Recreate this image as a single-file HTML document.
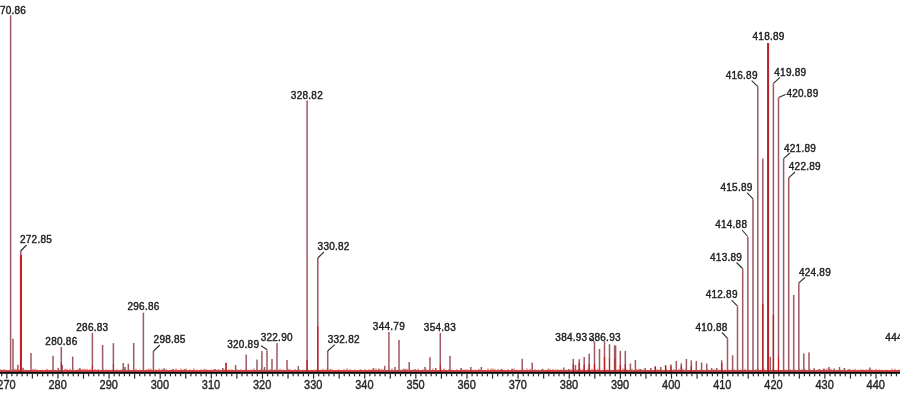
<!DOCTYPE html><html><head><meta charset="utf-8"><style>html,body{margin:0;padding:0;background:#fff;width:900px;height:402px;overflow:hidden}svg{display:block;will-change:transform}.l{font-family:"Liberation Sans",Arial,sans-serif;font-size:10px;letter-spacing:0.25px;fill:#222;stroke:#222;stroke-width:0.4px}.a{font-family:"Liberation Sans",Arial,sans-serif;font-size:12px;fill:#262626;stroke:#262626;stroke-width:0.4px}</style></head><body>
<svg width="900" height="402" viewBox="0 0 900 402">
<rect width="900" height="402" fill="#fff"/>
<rect x="0" y="370" width="900" height="1.9" fill="#e24040"/><rect x="0.5" y="369.3" width="1" height="1.2" fill="#e03c3a"/><rect x="3.5" y="369.1" width="1" height="1.4" fill="#e03c3a"/><rect x="5.5" y="369.7" width="1" height="0.8" fill="#e03c3a"/><rect x="10.5" y="369.7" width="1" height="0.8" fill="#e03c3a"/><rect x="13.5" y="368.8" width="1" height="1.7" fill="#e03c3a"/><rect x="15.5" y="368.8" width="1" height="1.7" fill="#e03c3a"/><rect x="18.5" y="369.7" width="1" height="0.8" fill="#e03c3a"/><rect x="20.5" y="369.1" width="1" height="1.4" fill="#e03c3a"/><rect x="24.5" y="369.7" width="1" height="0.8" fill="#e03c3a"/><rect x="27.5" y="369.7" width="1" height="0.8" fill="#e03c3a"/><rect x="32.5" y="369.1" width="1" height="1.4" fill="#e03c3a"/><rect x="34.5" y="368.8" width="1" height="1.7" fill="#e03c3a"/><rect x="36.5" y="369.5" width="1" height="1.0" fill="#e03c3a"/><rect x="41.5" y="369.7" width="1" height="0.8" fill="#e03c3a"/><rect x="46.5" y="368.8" width="1" height="1.7" fill="#e03c3a"/><rect x="50.5" y="369.7" width="1" height="0.8" fill="#e03c3a"/><rect x="53.5" y="369.7" width="1" height="0.8" fill="#e03c3a"/><rect x="58.5" y="369.5" width="1" height="1.0" fill="#e03c3a"/><rect x="61.5" y="369.1" width="1" height="1.4" fill="#e03c3a"/><rect x="64.5" y="368.8" width="1" height="1.7" fill="#e03c3a"/><rect x="66.5" y="368.8" width="1" height="1.7" fill="#e03c3a"/><rect x="69.5" y="368.8" width="1" height="1.7" fill="#e03c3a"/><rect x="72.5" y="369.7" width="1" height="0.8" fill="#e03c3a"/><rect x="77.5" y="368.8" width="1" height="1.7" fill="#e03c3a"/><rect x="80.5" y="369.3" width="1" height="1.2" fill="#e03c3a"/><rect x="82.5" y="368.8" width="1" height="1.7" fill="#e03c3a"/><rect x="84.5" y="368.8" width="1" height="1.7" fill="#e03c3a"/><rect x="86.5" y="368.8" width="1" height="1.7" fill="#e03c3a"/><rect x="89.5" y="369.1" width="1" height="1.4" fill="#e03c3a"/><rect x="94.5" y="369.1" width="1" height="1.4" fill="#e03c3a"/><rect x="97.5" y="369.1" width="1" height="1.4" fill="#e03c3a"/><rect x="102.5" y="369.1" width="1" height="1.4" fill="#e03c3a"/><rect x="105.5" y="369.3" width="1" height="1.2" fill="#e03c3a"/><rect x="108.5" y="369.5" width="1" height="1.0" fill="#e03c3a"/><rect x="111.5" y="369.7" width="1" height="0.8" fill="#e03c3a"/><rect x="116.5" y="369.3" width="1" height="1.2" fill="#e03c3a"/><rect x="121.5" y="369.1" width="1" height="1.4" fill="#e03c3a"/><rect x="124.5" y="368.5" width="1" height="2.0" fill="#e03c3a"/><rect x="128.5" y="369.3" width="1" height="1.2" fill="#e03c3a"/><rect x="133.5" y="369.7" width="1" height="0.8" fill="#e03c3a"/><rect x="135.5" y="368.8" width="1" height="1.7" fill="#e03c3a"/><rect x="139.5" y="369.5" width="1" height="1.0" fill="#e03c3a"/><rect x="142.5" y="369.5" width="1" height="1.0" fill="#e03c3a"/><rect x="146.5" y="369.1" width="1" height="1.4" fill="#e03c3a"/><rect x="148.5" y="368.5" width="1" height="2.0" fill="#e03c3a"/><rect x="150.5" y="368.8" width="1" height="1.7" fill="#e03c3a"/><rect x="155.5" y="369.3" width="1" height="1.2" fill="#e03c3a"/><rect x="158.5" y="368.5" width="1" height="2.0" fill="#e03c3a"/><rect x="161.5" y="368.8" width="1" height="1.7" fill="#e03c3a"/><rect x="165.5" y="368.8" width="1" height="1.7" fill="#e03c3a"/><rect x="169.5" y="369.7" width="1" height="0.8" fill="#e03c3a"/><rect x="171.5" y="369.3" width="1" height="1.2" fill="#e03c3a"/><rect x="175.5" y="368.5" width="1" height="2.0" fill="#e03c3a"/><rect x="177.5" y="369.7" width="1" height="0.8" fill="#e03c3a"/><rect x="180.5" y="368.5" width="1" height="2.0" fill="#e03c3a"/><rect x="185.5" y="368.5" width="1" height="2.0" fill="#e03c3a"/><rect x="189.5" y="369.3" width="1" height="1.2" fill="#e03c3a"/><rect x="193.5" y="368.5" width="1" height="2.0" fill="#e03c3a"/><rect x="196.5" y="369.7" width="1" height="0.8" fill="#e03c3a"/><rect x="200.5" y="369.3" width="1" height="1.2" fill="#e03c3a"/><rect x="203.5" y="368.8" width="1" height="1.7" fill="#e03c3a"/><rect x="205.5" y="369.1" width="1" height="1.4" fill="#e03c3a"/><rect x="207.5" y="369.5" width="1" height="1.0" fill="#e03c3a"/><rect x="210.5" y="369.5" width="1" height="1.0" fill="#e03c3a"/><rect x="213.5" y="369.1" width="1" height="1.4" fill="#e03c3a"/><rect x="217.5" y="369.1" width="1" height="1.4" fill="#e03c3a"/><rect x="219.5" y="369.5" width="1" height="1.0" fill="#e03c3a"/><rect x="223.5" y="369.1" width="1" height="1.4" fill="#e03c3a"/><rect x="228.5" y="369.3" width="1" height="1.2" fill="#e03c3a"/><rect x="231.5" y="369.1" width="1" height="1.4" fill="#e03c3a"/><rect x="236.5" y="369.3" width="1" height="1.2" fill="#e03c3a"/><rect x="240.5" y="369.3" width="1" height="1.2" fill="#e03c3a"/><rect x="244.5" y="369.5" width="1" height="1.0" fill="#e03c3a"/><rect x="247.5" y="369.7" width="1" height="0.8" fill="#e03c3a"/><rect x="250.5" y="369.5" width="1" height="1.0" fill="#e03c3a"/><rect x="253.5" y="368.5" width="1" height="2.0" fill="#e03c3a"/><rect x="256.5" y="369.7" width="1" height="0.8" fill="#e03c3a"/><rect x="260.5" y="368.8" width="1" height="1.7" fill="#e03c3a"/><rect x="263.5" y="369.3" width="1" height="1.2" fill="#e03c3a"/><rect x="266.5" y="369.7" width="1" height="0.8" fill="#e03c3a"/><rect x="269.5" y="369.1" width="1" height="1.4" fill="#e03c3a"/><rect x="274.5" y="369.3" width="1" height="1.2" fill="#e03c3a"/><rect x="279.5" y="368.8" width="1" height="1.7" fill="#e03c3a"/><rect x="282.5" y="369.5" width="1" height="1.0" fill="#e03c3a"/><rect x="287.5" y="368.8" width="1" height="1.7" fill="#e03c3a"/><rect x="289.5" y="369.1" width="1" height="1.4" fill="#e03c3a"/><rect x="294.5" y="369.1" width="1" height="1.4" fill="#e03c3a"/><rect x="298.5" y="369.1" width="1" height="1.4" fill="#e03c3a"/><rect x="302.5" y="369.7" width="1" height="0.8" fill="#e03c3a"/><rect x="306.5" y="368.5" width="1" height="2.0" fill="#e03c3a"/><rect x="310.5" y="369.7" width="1" height="0.8" fill="#e03c3a"/><rect x="313.5" y="369.7" width="1" height="0.8" fill="#e03c3a"/><rect x="316.5" y="369.1" width="1" height="1.4" fill="#e03c3a"/><rect x="319.5" y="369.7" width="1" height="0.8" fill="#e03c3a"/><rect x="322.5" y="368.8" width="1" height="1.7" fill="#e03c3a"/><rect x="324.5" y="369.7" width="1" height="0.8" fill="#e03c3a"/><rect x="326.5" y="368.8" width="1" height="1.7" fill="#e03c3a"/><rect x="329.5" y="368.8" width="1" height="1.7" fill="#e03c3a"/><rect x="331.5" y="369.3" width="1" height="1.2" fill="#e03c3a"/><rect x="336.5" y="369.7" width="1" height="0.8" fill="#e03c3a"/><rect x="338.5" y="369.5" width="1" height="1.0" fill="#e03c3a"/><rect x="343.5" y="369.1" width="1" height="1.4" fill="#e03c3a"/><rect x="346.5" y="368.5" width="1" height="2.0" fill="#e03c3a"/><rect x="349.5" y="369.3" width="1" height="1.2" fill="#e03c3a"/><rect x="354.5" y="369.3" width="1" height="1.2" fill="#e03c3a"/><rect x="358.5" y="369.7" width="1" height="0.8" fill="#e03c3a"/><rect x="360.5" y="369.1" width="1" height="1.4" fill="#e03c3a"/><rect x="364.5" y="369.1" width="1" height="1.4" fill="#e03c3a"/><rect x="368.5" y="369.3" width="1" height="1.2" fill="#e03c3a"/><rect x="370.5" y="369.5" width="1" height="1.0" fill="#e03c3a"/><rect x="372.5" y="368.5" width="1" height="2.0" fill="#e03c3a"/><rect x="375.5" y="368.5" width="1" height="2.0" fill="#e03c3a"/><rect x="378.5" y="369.1" width="1" height="1.4" fill="#e03c3a"/><rect x="381.5" y="368.8" width="1" height="1.7" fill="#e03c3a"/><rect x="383.5" y="369.5" width="1" height="1.0" fill="#e03c3a"/><rect x="388.5" y="369.3" width="1" height="1.2" fill="#e03c3a"/><rect x="391.5" y="368.5" width="1" height="2.0" fill="#e03c3a"/><rect x="396.5" y="369.7" width="1" height="0.8" fill="#e03c3a"/><rect x="401.5" y="369.3" width="1" height="1.2" fill="#e03c3a"/><rect x="403.5" y="368.5" width="1" height="2.0" fill="#e03c3a"/><rect x="406.5" y="368.8" width="1" height="1.7" fill="#e03c3a"/><rect x="409.5" y="369.5" width="1" height="1.0" fill="#e03c3a"/><rect x="412.5" y="369.5" width="1" height="1.0" fill="#e03c3a"/><rect x="417.5" y="368.8" width="1" height="1.7" fill="#e03c3a"/><rect x="422.5" y="369.3" width="1" height="1.2" fill="#e03c3a"/><rect x="425.5" y="368.8" width="1" height="1.7" fill="#e03c3a"/><rect x="428.5" y="369.5" width="1" height="1.0" fill="#e03c3a"/><rect x="432.5" y="368.5" width="1" height="2.0" fill="#e03c3a"/><rect x="435.5" y="369.5" width="1" height="1.0" fill="#e03c3a"/><rect x="440.5" y="369.1" width="1" height="1.4" fill="#e03c3a"/><rect x="443.5" y="368.5" width="1" height="2.0" fill="#e03c3a"/><rect x="445.5" y="369.7" width="1" height="0.8" fill="#e03c3a"/><rect x="448.5" y="369.1" width="1" height="1.4" fill="#e03c3a"/><rect x="451.5" y="369.5" width="1" height="1.0" fill="#e03c3a"/><rect x="456.5" y="369.3" width="1" height="1.2" fill="#e03c3a"/><rect x="460.5" y="368.5" width="1" height="2.0" fill="#e03c3a"/><rect x="463.5" y="369.3" width="1" height="1.2" fill="#e03c3a"/><rect x="465.5" y="369.5" width="1" height="1.0" fill="#e03c3a"/><rect x="467.5" y="369.5" width="1" height="1.0" fill="#e03c3a"/><rect x="471.5" y="369.5" width="1" height="1.0" fill="#e03c3a"/><rect x="474.5" y="369.5" width="1" height="1.0" fill="#e03c3a"/><rect x="478.5" y="368.8" width="1" height="1.7" fill="#e03c3a"/><rect x="483.5" y="369.7" width="1" height="0.8" fill="#e03c3a"/><rect x="487.5" y="368.5" width="1" height="2.0" fill="#e03c3a"/><rect x="490.5" y="368.5" width="1" height="2.0" fill="#e03c3a"/><rect x="492.5" y="368.5" width="1" height="2.0" fill="#e03c3a"/><rect x="494.5" y="369.1" width="1" height="1.4" fill="#e03c3a"/><rect x="497.5" y="369.1" width="1" height="1.4" fill="#e03c3a"/><rect x="500.5" y="369.1" width="1" height="1.4" fill="#e03c3a"/><rect x="503.5" y="369.7" width="1" height="0.8" fill="#e03c3a"/><rect x="507.5" y="369.1" width="1" height="1.4" fill="#e03c3a"/><rect x="511.5" y="368.5" width="1" height="2.0" fill="#e03c3a"/><rect x="513.5" y="368.5" width="1" height="2.0" fill="#e03c3a"/><rect x="516.5" y="369.5" width="1" height="1.0" fill="#e03c3a"/><rect x="519.5" y="369.7" width="1" height="0.8" fill="#e03c3a"/><rect x="522.5" y="368.8" width="1" height="1.7" fill="#e03c3a"/><rect x="526.5" y="368.5" width="1" height="2.0" fill="#e03c3a"/><rect x="529.5" y="368.8" width="1" height="1.7" fill="#e03c3a"/><rect x="534.5" y="369.1" width="1" height="1.4" fill="#e03c3a"/><rect x="537.5" y="369.5" width="1" height="1.0" fill="#e03c3a"/><rect x="542.5" y="368.8" width="1" height="1.7" fill="#e03c3a"/><rect x="545.5" y="369.7" width="1" height="0.8" fill="#e03c3a"/><rect x="547.5" y="368.5" width="1" height="2.0" fill="#e03c3a"/><rect x="549.5" y="368.8" width="1" height="1.7" fill="#e03c3a"/><rect x="552.5" y="369.1" width="1" height="1.4" fill="#e03c3a"/><rect x="555.5" y="369.5" width="1" height="1.0" fill="#e03c3a"/><rect x="557.5" y="369.3" width="1" height="1.2" fill="#e03c3a"/><rect x="560.5" y="369.3" width="1" height="1.2" fill="#e03c3a"/><rect x="565.5" y="369.5" width="1" height="1.0" fill="#e03c3a"/><rect x="570.5" y="369.3" width="1" height="1.2" fill="#e03c3a"/><rect x="573.5" y="368.8" width="1" height="1.7" fill="#e03c3a"/><rect x="577.5" y="369.5" width="1" height="1.0" fill="#e03c3a"/><rect x="579.5" y="368.5" width="1" height="2.0" fill="#e03c3a"/><rect x="582.5" y="369.1" width="1" height="1.4" fill="#e03c3a"/><rect x="587.5" y="368.8" width="1" height="1.7" fill="#e03c3a"/><rect x="591.5" y="368.8" width="1" height="1.7" fill="#e03c3a"/><rect x="594.5" y="368.8" width="1" height="1.7" fill="#e03c3a"/><rect x="597.5" y="368.8" width="1" height="1.7" fill="#e03c3a"/><rect x="602.5" y="369.7" width="1" height="0.8" fill="#e03c3a"/><rect x="606.5" y="369.5" width="1" height="1.0" fill="#e03c3a"/><rect x="611.5" y="369.7" width="1" height="0.8" fill="#e03c3a"/><rect x="614.5" y="369.5" width="1" height="1.0" fill="#e03c3a"/><rect x="617.5" y="369.1" width="1" height="1.4" fill="#e03c3a"/><rect x="622.5" y="368.5" width="1" height="2.0" fill="#e03c3a"/><rect x="624.5" y="368.8" width="1" height="1.7" fill="#e03c3a"/><rect x="626.5" y="369.3" width="1" height="1.2" fill="#e03c3a"/><rect x="631.5" y="368.8" width="1" height="1.7" fill="#e03c3a"/><rect x="636.5" y="369.1" width="1" height="1.4" fill="#e03c3a"/><rect x="638.5" y="368.8" width="1" height="1.7" fill="#e03c3a"/><rect x="640.5" y="369.5" width="1" height="1.0" fill="#e03c3a"/><rect x="643.5" y="369.3" width="1" height="1.2" fill="#e03c3a"/><rect x="645.5" y="369.7" width="1" height="0.8" fill="#e03c3a"/><rect x="650.5" y="369.1" width="1" height="1.4" fill="#e03c3a"/><rect x="655.5" y="369.7" width="1" height="0.8" fill="#e03c3a"/><rect x="657.5" y="369.1" width="1" height="1.4" fill="#e03c3a"/><rect x="660.5" y="368.8" width="1" height="1.7" fill="#e03c3a"/><rect x="665.5" y="368.8" width="1" height="1.7" fill="#e03c3a"/><rect x="670.5" y="369.5" width="1" height="1.0" fill="#e03c3a"/><rect x="673.5" y="369.1" width="1" height="1.4" fill="#e03c3a"/><rect x="678.5" y="368.8" width="1" height="1.7" fill="#e03c3a"/><rect x="682.5" y="368.8" width="1" height="1.7" fill="#e03c3a"/><rect x="685.5" y="368.5" width="1" height="2.0" fill="#e03c3a"/><rect x="690.5" y="369.3" width="1" height="1.2" fill="#e03c3a"/><rect x="695.5" y="369.5" width="1" height="1.0" fill="#e03c3a"/><rect x="699.5" y="369.5" width="1" height="1.0" fill="#e03c3a"/><rect x="703.5" y="369.7" width="1" height="0.8" fill="#e03c3a"/><rect x="707.5" y="369.1" width="1" height="1.4" fill="#e03c3a"/><rect x="710.5" y="369.7" width="1" height="0.8" fill="#e03c3a"/><rect x="713.5" y="369.1" width="1" height="1.4" fill="#e03c3a"/><rect x="715.5" y="369.5" width="1" height="1.0" fill="#e03c3a"/><rect x="718.5" y="369.7" width="1" height="0.8" fill="#e03c3a"/><rect x="721.5" y="368.5" width="1" height="2.0" fill="#e03c3a"/><rect x="724.5" y="369.5" width="1" height="1.0" fill="#e03c3a"/><rect x="727.5" y="369.5" width="1" height="1.0" fill="#e03c3a"/><rect x="731.5" y="369.5" width="1" height="1.0" fill="#e03c3a"/><rect x="733.5" y="369.1" width="1" height="1.4" fill="#e03c3a"/><rect x="737.5" y="369.5" width="1" height="1.0" fill="#e03c3a"/><rect x="740.5" y="369.5" width="1" height="1.0" fill="#e03c3a"/><rect x="744.5" y="368.8" width="1" height="1.7" fill="#e03c3a"/><rect x="748.5" y="369.3" width="1" height="1.2" fill="#e03c3a"/><rect x="752.5" y="369.5" width="1" height="1.0" fill="#e03c3a"/><rect x="755.5" y="369.3" width="1" height="1.2" fill="#e03c3a"/><rect x="757.5" y="368.5" width="1" height="2.0" fill="#e03c3a"/><rect x="760.5" y="369.7" width="1" height="0.8" fill="#e03c3a"/><rect x="763.5" y="368.8" width="1" height="1.7" fill="#e03c3a"/><rect x="767.5" y="369.1" width="1" height="1.4" fill="#e03c3a"/><rect x="769.5" y="369.1" width="1" height="1.4" fill="#e03c3a"/><rect x="772.5" y="368.8" width="1" height="1.7" fill="#e03c3a"/><rect x="777.5" y="369.3" width="1" height="1.2" fill="#e03c3a"/><rect x="782.5" y="369.7" width="1" height="0.8" fill="#e03c3a"/><rect x="784.5" y="369.5" width="1" height="1.0" fill="#e03c3a"/><rect x="786.5" y="369.7" width="1" height="0.8" fill="#e03c3a"/><rect x="789.5" y="369.3" width="1" height="1.2" fill="#e03c3a"/><rect x="791.5" y="369.5" width="1" height="1.0" fill="#e03c3a"/><rect x="794.5" y="369.5" width="1" height="1.0" fill="#e03c3a"/><rect x="798.5" y="368.5" width="1" height="2.0" fill="#e03c3a"/><rect x="801.5" y="369.1" width="1" height="1.4" fill="#e03c3a"/><rect x="804.5" y="368.8" width="1" height="1.7" fill="#e03c3a"/><rect x="809.5" y="368.8" width="1" height="1.7" fill="#e03c3a"/><rect x="813.5" y="368.5" width="1" height="2.0" fill="#e03c3a"/><rect x="816.5" y="369.7" width="1" height="0.8" fill="#e03c3a"/><rect x="819.5" y="369.7" width="1" height="0.8" fill="#e03c3a"/><rect x="822.5" y="369.1" width="1" height="1.4" fill="#e03c3a"/><rect x="824.5" y="369.3" width="1" height="1.2" fill="#e03c3a"/><rect x="826.5" y="368.5" width="1" height="2.0" fill="#e03c3a"/><rect x="828.5" y="369.3" width="1" height="1.2" fill="#e03c3a"/><rect x="830.5" y="368.8" width="1" height="1.7" fill="#e03c3a"/><rect x="833.5" y="369.7" width="1" height="0.8" fill="#e03c3a"/><rect x="836.5" y="369.7" width="1" height="0.8" fill="#e03c3a"/><rect x="840.5" y="369.7" width="1" height="0.8" fill="#e03c3a"/><rect x="843.5" y="368.8" width="1" height="1.7" fill="#e03c3a"/><rect x="847.5" y="369.3" width="1" height="1.2" fill="#e03c3a"/><rect x="852.5" y="369.5" width="1" height="1.0" fill="#e03c3a"/><rect x="854.5" y="368.8" width="1" height="1.7" fill="#e03c3a"/><rect x="857.5" y="369.7" width="1" height="0.8" fill="#e03c3a"/><rect x="860.5" y="369.3" width="1" height="1.2" fill="#e03c3a"/><rect x="862.5" y="369.5" width="1" height="1.0" fill="#e03c3a"/><rect x="865.5" y="369.3" width="1" height="1.2" fill="#e03c3a"/><rect x="868.5" y="368.8" width="1" height="1.7" fill="#e03c3a"/><rect x="871.5" y="369.3" width="1" height="1.2" fill="#e03c3a"/><rect x="875.5" y="368.8" width="1" height="1.7" fill="#e03c3a"/><rect x="878.5" y="369.3" width="1" height="1.2" fill="#e03c3a"/><rect x="881.5" y="369.7" width="1" height="0.8" fill="#e03c3a"/><rect x="884.5" y="369.7" width="1" height="0.8" fill="#e03c3a"/><rect x="886.5" y="369.7" width="1" height="0.8" fill="#e03c3a"/><rect x="891.5" y="368.8" width="1" height="1.7" fill="#e03c3a"/><rect x="894.5" y="368.8" width="1" height="1.7" fill="#e03c3a"/><rect x="898.5" y="369.5" width="1" height="1.0" fill="#e03c3a"/>
<rect x="9.85" y="15.3" width="1.5" height="356.4" fill="#a05862"/><rect x="12.25" y="338.7" width="1.5" height="33.0" fill="#a05862"/><rect x="17.15" y="364.8" width="1.5" height="6.9" fill="#a05862"/><rect x="20.05" y="251.0" width="1.5" height="120.7" fill="#a05862"/><rect x="22.35" y="367.8" width="1.5" height="3.9" fill="#a05862"/><rect x="30.25" y="353.1" width="1.5" height="18.6" fill="#a05862"/><rect x="52.25" y="355.8" width="1.5" height="15.9" fill="#a05862"/><rect x="57.45" y="367.8" width="1.5" height="3.9" fill="#a05862"/><rect x="60.55" y="347.0" width="1.5" height="24.7" fill="#a05862"/><rect x="61.45" y="365.0" width="1.5" height="6.7" fill="#a05862"/><rect x="71.95" y="356.6" width="1.5" height="15.1" fill="#a05862"/><rect x="79.15" y="368.0" width="1.5" height="3.7" fill="#a05862"/><rect x="91.65" y="332.8" width="1.5" height="38.9" fill="#a05862"/><rect x="101.85" y="345.0" width="1.5" height="26.7" fill="#a05862"/><rect x="112.65" y="343.1" width="1.5" height="28.6" fill="#a05862"/><rect x="122.55" y="363.0" width="1.5" height="8.7" fill="#a05862"/><rect x="124.25" y="367.0" width="1.5" height="4.7" fill="#a05862"/><rect x="127.55" y="363.7" width="1.5" height="8.0" fill="#a05862"/><rect x="132.95" y="343.0" width="1.5" height="28.7" fill="#a05862"/><rect x="142.65" y="312.6" width="1.5" height="59.1" fill="#a05862"/><rect x="152.65" y="351.0" width="1.5" height="20.7" fill="#a05862"/><rect x="163.25" y="368.3" width="1.5" height="3.4" fill="#a05862"/><rect x="172.55" y="369.0" width="1.5" height="2.7" fill="#a05862"/><rect x="183.65" y="369.0" width="1.5" height="2.7" fill="#a05862"/><rect x="214.25" y="369.0" width="1.5" height="2.7" fill="#a05862"/><rect x="222.05" y="368.0" width="1.5" height="3.7" fill="#a05862"/><rect x="225.35" y="362.8" width="1.5" height="8.9" fill="#a05862"/><rect x="234.85" y="365.0" width="1.5" height="6.7" fill="#a05862"/><rect x="245.45" y="354.5" width="1.5" height="17.2" fill="#a05862"/><rect x="256.25" y="359.5" width="1.5" height="12.2" fill="#a05862"/><rect x="261.15" y="351.0" width="1.5" height="20.7" fill="#a05862"/><rect x="263.75" y="367.0" width="1.5" height="4.7" fill="#a05862"/><rect x="266.25" y="350.5" width="1.5" height="21.2" fill="#a05862"/><rect x="271.25" y="359.0" width="1.5" height="12.7" fill="#a05862"/><rect x="276.25" y="343.0" width="1.5" height="28.7" fill="#a05862"/><rect x="286.25" y="360.0" width="1.5" height="11.7" fill="#a05862"/><rect x="297.55" y="366.0" width="1.5" height="5.7" fill="#a05862"/><rect x="306.35" y="100.5" width="1.5" height="271.2" fill="#a05862"/><rect x="317.05" y="258.0" width="1.5" height="113.7" fill="#a05862"/><rect x="326.95" y="351.0" width="1.5" height="20.7" fill="#a05862"/><rect x="372.85" y="368.2" width="1.5" height="3.5" fill="#a05862"/><rect x="378.15" y="368.7" width="1.5" height="3.0" fill="#a05862"/><rect x="383.95" y="365.8" width="1.5" height="5.9" fill="#a05862"/><rect x="388.15" y="332.0" width="1.5" height="39.7" fill="#a05862"/><rect x="394.25" y="367.0" width="1.5" height="4.7" fill="#a05862"/><rect x="398.25" y="340.0" width="1.5" height="31.7" fill="#a05862"/><rect x="404.25" y="369.0" width="1.5" height="2.7" fill="#a05862"/><rect x="408.45" y="362.0" width="1.5" height="9.7" fill="#a05862"/><rect x="414.25" y="369.0" width="1.5" height="2.7" fill="#a05862"/><rect x="424.25" y="367.0" width="1.5" height="4.7" fill="#a05862"/><rect x="429.25" y="357.2" width="1.5" height="14.5" fill="#a05862"/><rect x="435.05" y="368.0" width="1.5" height="3.7" fill="#a05862"/><rect x="439.55" y="332.8" width="1.5" height="38.9" fill="#a05862"/><rect x="449.25" y="355.8" width="1.5" height="15.9" fill="#a05862"/><rect x="460.45" y="368.0" width="1.5" height="3.7" fill="#a05862"/><rect x="470.05" y="367.0" width="1.5" height="4.7" fill="#a05862"/><rect x="480.55" y="367.0" width="1.5" height="4.7" fill="#a05862"/><rect x="500.95" y="369.0" width="1.5" height="2.7" fill="#a05862"/><rect x="511.45" y="369.0" width="1.5" height="2.7" fill="#a05862"/><rect x="521.45" y="358.8" width="1.5" height="12.9" fill="#a05862"/><rect x="531.45" y="362.5" width="1.5" height="9.2" fill="#a05862"/><rect x="541.45" y="369.0" width="1.5" height="2.7" fill="#a05862"/><rect x="562.95" y="367.5" width="1.5" height="4.2" fill="#a05862"/><rect x="567.95" y="369.0" width="1.5" height="2.7" fill="#a05862"/><rect x="572.55" y="358.8" width="1.5" height="12.9" fill="#a05862"/><rect x="574.75" y="365.0" width="1.5" height="6.7" fill="#a05862"/><rect x="578.45" y="359.2" width="1.5" height="12.5" fill="#a05862"/><rect x="583.45" y="357.0" width="1.5" height="14.7" fill="#a05862"/><rect x="588.45" y="353.7" width="1.5" height="18.0" fill="#a05862"/><rect x="593.75" y="341.8" width="1.5" height="29.9" fill="#a05862"/><rect x="598.75" y="349.0" width="1.5" height="22.7" fill="#a05862"/><rect x="603.75" y="341.2" width="1.5" height="30.5" fill="#a05862"/><rect x="608.75" y="344.2" width="1.5" height="27.5" fill="#a05862"/><rect x="613.85" y="345.3" width="1.5" height="26.4" fill="#a05862"/><rect x="614.85" y="345.6" width="1.5" height="26.1" fill="#a05862"/><rect x="619.55" y="350.8" width="1.5" height="20.9" fill="#a05862"/><rect x="624.55" y="350.8" width="1.5" height="20.9" fill="#a05862"/><rect x="629.65" y="363.5" width="1.5" height="8.2" fill="#a05862"/><rect x="634.65" y="360.0" width="1.5" height="11.7" fill="#a05862"/><rect x="639.75" y="369.0" width="1.5" height="2.7" fill="#a05862"/><rect x="644.45" y="368.0" width="1.5" height="3.7" fill="#a05862"/><rect x="649.95" y="368.0" width="1.5" height="3.7" fill="#a05862"/><rect x="654.55" y="366.0" width="1.5" height="5.7" fill="#a05862"/><rect x="659.95" y="367.0" width="1.5" height="4.7" fill="#a05862"/><rect x="664.85" y="365.0" width="1.5" height="6.7" fill="#a05862"/><rect x="670.15" y="364.4" width="1.5" height="7.3" fill="#a05862"/><rect x="675.55" y="361.0" width="1.5" height="10.7" fill="#a05862"/><rect x="680.55" y="363.3" width="1.5" height="8.4" fill="#a05862"/><rect x="685.65" y="359.0" width="1.5" height="12.7" fill="#a05862"/><rect x="690.55" y="360.4" width="1.5" height="11.3" fill="#a05862"/><rect x="695.55" y="361.0" width="1.5" height="10.7" fill="#a05862"/><rect x="700.85" y="362.5" width="1.5" height="9.2" fill="#a05862"/><rect x="705.95" y="363.6" width="1.5" height="8.1" fill="#a05862"/><rect x="710.95" y="368.0" width="1.5" height="3.7" fill="#a05862"/><rect x="716.05" y="368.0" width="1.5" height="3.7" fill="#a05862"/><rect x="720.95" y="360.3" width="1.5" height="11.4" fill="#a05862"/><rect x="726.75" y="338.5" width="1.5" height="33.2" fill="#a05862"/><rect x="731.85" y="355.2" width="1.5" height="16.5" fill="#a05862"/><rect x="736.75" y="306.4" width="1.5" height="65.3" fill="#a05862"/><rect x="741.95" y="268.7" width="1.5" height="103.0" fill="#a05862"/><rect x="747.15" y="236.9" width="1.5" height="134.8" fill="#a05862"/><rect x="752.25" y="199.1" width="1.5" height="172.6" fill="#a05862"/><rect x="757.05" y="86.6" width="1.5" height="285.1" fill="#a05862"/><rect x="762.05" y="158.6" width="1.5" height="213.1" fill="#a05862"/><rect x="767.35" y="43.0" width="1.5" height="328.7" fill="#a05862"/><rect x="769.55" y="356.8" width="1.5" height="14.9" fill="#a05862"/><rect x="772.65" y="83.6" width="1.5" height="288.1" fill="#a05862"/><rect x="777.75" y="97.8" width="1.5" height="273.9" fill="#a05862"/><rect x="782.85" y="158.7" width="1.5" height="213.0" fill="#a05862"/><rect x="787.95" y="178.0" width="1.5" height="193.7" fill="#a05862"/><rect x="792.95" y="295.0" width="1.5" height="76.7" fill="#a05862"/><rect x="798.05" y="283.3" width="1.5" height="88.4" fill="#a05862"/><rect x="803.05" y="353.5" width="1.5" height="18.2" fill="#a05862"/><rect x="808.25" y="352.4" width="1.5" height="19.3" fill="#a05862"/><rect x="813.45" y="368.3" width="1.5" height="3.4" fill="#a05862"/><rect x="818.55" y="369.0" width="1.5" height="2.7" fill="#a05862"/><rect x="823.25" y="368.5" width="1.5" height="3.2" fill="#a05862"/><rect x="828.35" y="367.0" width="1.5" height="4.7" fill="#a05862"/><rect x="833.25" y="368.5" width="1.5" height="3.2" fill="#a05862"/><rect x="838.75" y="367.0" width="1.5" height="4.7" fill="#a05862"/><rect x="843.75" y="368.0" width="1.5" height="3.7" fill="#a05862"/><rect x="848.75" y="369.0" width="1.5" height="2.7" fill="#a05862"/><rect x="869.25" y="367.5" width="1.5" height="4.2" fill="#a05862"/>
<rect x="19.90" y="255.0" width="2.0" height="116.7" fill="#c81a1e"/><rect x="317.20" y="326.0" width="1.2" height="45.7" fill="#c81a1e"/><rect x="306.50" y="360.0" width="1.2" height="11.7" fill="#c81a1e"/><rect x="762.15" y="303.7" width="1.3" height="68.0" fill="#c81a1e"/><rect x="767.10" y="43.0" width="2.0" height="328.7" fill="#b8222a"/><rect x="772.75" y="314.6" width="1.3" height="57.1" fill="#c81a1e"/><rect x="225.50" y="363.0" width="1.2" height="8.7" fill="#c81a1e"/><rect x="614.50" y="358.0" width="1.0" height="13.7" fill="#c81a1e"/><rect x="609.00" y="358.0" width="1.0" height="13.7" fill="#c81a1e"/><rect x="778.00" y="357.0" width="1.0" height="14.7" fill="#c81a1e"/><rect x="572.70" y="364.0" width="1.2" height="7.7" fill="#c81a1e"/><rect x="578.60" y="363.0" width="1.2" height="8.7" fill="#c81a1e"/><rect x="583.60" y="365.0" width="1.2" height="6.7" fill="#c81a1e"/><rect x="588.60" y="364.0" width="1.2" height="7.7" fill="#c81a1e"/><rect x="593.90" y="364.0" width="1.2" height="7.7" fill="#c81a1e"/><rect x="603.85" y="357.0" width="1.3" height="14.7" fill="#c81a1e"/><rect x="619.70" y="365.0" width="1.2" height="6.7" fill="#c81a1e"/><rect x="624.70" y="364.0" width="1.2" height="7.7" fill="#c81a1e"/><rect x="654.70" y="367.0" width="1.2" height="4.7" fill="#c81a1e"/><rect x="665.00" y="366.0" width="1.2" height="5.7" fill="#c81a1e"/><rect x="670.30" y="366.0" width="1.2" height="5.7" fill="#c81a1e"/><rect x="680.70" y="366.0" width="1.2" height="5.7" fill="#c81a1e"/><rect x="690.70" y="366.0" width="1.2" height="5.7" fill="#c81a1e"/><rect x="721.10" y="363.0" width="1.2" height="8.7" fill="#c81a1e"/><rect x="60.80" y="362.0" width="1.0" height="9.7" fill="#c81a1e"/><rect x="91.90" y="366.0" width="1.0" height="5.7" fill="#c81a1e"/><rect x="112.90" y="364.0" width="1.0" height="7.7" fill="#c81a1e"/><rect x="439.80" y="365.0" width="1.0" height="6.7" fill="#c81a1e"/>
<rect x="0" y="371.8" width="900" height="2.0" fill="#080808"/>
<rect x="1.09" y="373.6" width="1.2" height="2.7" fill="#2a2a2a"/><rect x="6.20" y="373.6" width="1.2" height="5.0" fill="#2a2a2a"/><rect x="11.31" y="373.6" width="1.2" height="2.7" fill="#2a2a2a"/><rect x="16.43" y="373.6" width="1.2" height="2.7" fill="#2a2a2a"/><rect x="21.54" y="373.6" width="1.2" height="2.7" fill="#2a2a2a"/><rect x="26.65" y="373.6" width="1.2" height="2.7" fill="#2a2a2a"/><rect x="31.76" y="373.6" width="1.2" height="5.0" fill="#2a2a2a"/><rect x="36.88" y="373.6" width="1.2" height="2.7" fill="#2a2a2a"/><rect x="41.99" y="373.6" width="1.2" height="2.7" fill="#2a2a2a"/><rect x="47.10" y="373.6" width="1.2" height="2.7" fill="#2a2a2a"/><rect x="52.22" y="373.6" width="1.2" height="2.7" fill="#2a2a2a"/><rect x="57.33" y="373.6" width="1.2" height="5.0" fill="#2a2a2a"/><rect x="62.44" y="373.6" width="1.2" height="2.7" fill="#2a2a2a"/><rect x="67.56" y="373.6" width="1.2" height="2.7" fill="#2a2a2a"/><rect x="72.67" y="373.6" width="1.2" height="2.7" fill="#2a2a2a"/><rect x="77.78" y="373.6" width="1.2" height="2.7" fill="#2a2a2a"/><rect x="82.90" y="373.6" width="1.2" height="5.0" fill="#2a2a2a"/><rect x="88.01" y="373.6" width="1.2" height="2.7" fill="#2a2a2a"/><rect x="93.12" y="373.6" width="1.2" height="2.7" fill="#2a2a2a"/><rect x="98.23" y="373.6" width="1.2" height="2.7" fill="#2a2a2a"/><rect x="103.35" y="373.6" width="1.2" height="2.7" fill="#2a2a2a"/><rect x="108.46" y="373.6" width="1.2" height="5.0" fill="#2a2a2a"/><rect x="113.57" y="373.6" width="1.2" height="2.7" fill="#2a2a2a"/><rect x="118.69" y="373.6" width="1.2" height="2.7" fill="#2a2a2a"/><rect x="123.80" y="373.6" width="1.2" height="2.7" fill="#2a2a2a"/><rect x="128.91" y="373.6" width="1.2" height="2.7" fill="#2a2a2a"/><rect x="134.03" y="373.6" width="1.2" height="5.0" fill="#2a2a2a"/><rect x="139.14" y="373.6" width="1.2" height="2.7" fill="#2a2a2a"/><rect x="144.25" y="373.6" width="1.2" height="2.7" fill="#2a2a2a"/><rect x="149.36" y="373.6" width="1.2" height="2.7" fill="#2a2a2a"/><rect x="154.48" y="373.6" width="1.2" height="2.7" fill="#2a2a2a"/><rect x="159.59" y="373.6" width="1.2" height="5.0" fill="#2a2a2a"/><rect x="164.70" y="373.6" width="1.2" height="2.7" fill="#2a2a2a"/><rect x="169.82" y="373.6" width="1.2" height="2.7" fill="#2a2a2a"/><rect x="174.93" y="373.6" width="1.2" height="2.7" fill="#2a2a2a"/><rect x="180.04" y="373.6" width="1.2" height="2.7" fill="#2a2a2a"/><rect x="185.16" y="373.6" width="1.2" height="5.0" fill="#2a2a2a"/><rect x="190.27" y="373.6" width="1.2" height="2.7" fill="#2a2a2a"/><rect x="195.38" y="373.6" width="1.2" height="2.7" fill="#2a2a2a"/><rect x="200.49" y="373.6" width="1.2" height="2.7" fill="#2a2a2a"/><rect x="205.61" y="373.6" width="1.2" height="2.7" fill="#2a2a2a"/><rect x="210.72" y="373.6" width="1.2" height="5.0" fill="#2a2a2a"/><rect x="215.83" y="373.6" width="1.2" height="2.7" fill="#2a2a2a"/><rect x="220.95" y="373.6" width="1.2" height="2.7" fill="#2a2a2a"/><rect x="226.06" y="373.6" width="1.2" height="2.7" fill="#2a2a2a"/><rect x="231.17" y="373.6" width="1.2" height="2.7" fill="#2a2a2a"/><rect x="236.28" y="373.6" width="1.2" height="5.0" fill="#2a2a2a"/><rect x="241.40" y="373.6" width="1.2" height="2.7" fill="#2a2a2a"/><rect x="246.51" y="373.6" width="1.2" height="2.7" fill="#2a2a2a"/><rect x="251.62" y="373.6" width="1.2" height="2.7" fill="#2a2a2a"/><rect x="256.74" y="373.6" width="1.2" height="2.7" fill="#2a2a2a"/><rect x="261.85" y="373.6" width="1.2" height="5.0" fill="#2a2a2a"/><rect x="266.96" y="373.6" width="1.2" height="2.7" fill="#2a2a2a"/><rect x="272.08" y="373.6" width="1.2" height="2.7" fill="#2a2a2a"/><rect x="277.19" y="373.6" width="1.2" height="2.7" fill="#2a2a2a"/><rect x="282.30" y="373.6" width="1.2" height="2.7" fill="#2a2a2a"/><rect x="287.42" y="373.6" width="1.2" height="5.0" fill="#2a2a2a"/><rect x="292.53" y="373.6" width="1.2" height="2.7" fill="#2a2a2a"/><rect x="297.64" y="373.6" width="1.2" height="2.7" fill="#2a2a2a"/><rect x="302.75" y="373.6" width="1.2" height="2.7" fill="#2a2a2a"/><rect x="307.87" y="373.6" width="1.2" height="2.7" fill="#2a2a2a"/><rect x="312.98" y="373.6" width="1.2" height="5.0" fill="#2a2a2a"/><rect x="318.09" y="373.6" width="1.2" height="2.7" fill="#2a2a2a"/><rect x="323.21" y="373.6" width="1.2" height="2.7" fill="#2a2a2a"/><rect x="328.32" y="373.6" width="1.2" height="2.7" fill="#2a2a2a"/><rect x="333.43" y="373.6" width="1.2" height="2.7" fill="#2a2a2a"/><rect x="338.55" y="373.6" width="1.2" height="5.0" fill="#2a2a2a"/><rect x="343.66" y="373.6" width="1.2" height="2.7" fill="#2a2a2a"/><rect x="348.77" y="373.6" width="1.2" height="2.7" fill="#2a2a2a"/><rect x="353.88" y="373.6" width="1.2" height="2.7" fill="#2a2a2a"/><rect x="359.00" y="373.6" width="1.2" height="2.7" fill="#2a2a2a"/><rect x="364.11" y="373.6" width="1.2" height="5.0" fill="#2a2a2a"/><rect x="369.22" y="373.6" width="1.2" height="2.7" fill="#2a2a2a"/><rect x="374.34" y="373.6" width="1.2" height="2.7" fill="#2a2a2a"/><rect x="379.45" y="373.6" width="1.2" height="2.7" fill="#2a2a2a"/><rect x="384.56" y="373.6" width="1.2" height="2.7" fill="#2a2a2a"/><rect x="389.68" y="373.6" width="1.2" height="5.0" fill="#2a2a2a"/><rect x="394.79" y="373.6" width="1.2" height="2.7" fill="#2a2a2a"/><rect x="399.90" y="373.6" width="1.2" height="2.7" fill="#2a2a2a"/><rect x="405.01" y="373.6" width="1.2" height="2.7" fill="#2a2a2a"/><rect x="410.13" y="373.6" width="1.2" height="2.7" fill="#2a2a2a"/><rect x="415.24" y="373.6" width="1.2" height="5.0" fill="#2a2a2a"/><rect x="420.35" y="373.6" width="1.2" height="2.7" fill="#2a2a2a"/><rect x="425.47" y="373.6" width="1.2" height="2.7" fill="#2a2a2a"/><rect x="430.58" y="373.6" width="1.2" height="2.7" fill="#2a2a2a"/><rect x="435.69" y="373.6" width="1.2" height="2.7" fill="#2a2a2a"/><rect x="440.81" y="373.6" width="1.2" height="5.0" fill="#2a2a2a"/><rect x="445.92" y="373.6" width="1.2" height="2.7" fill="#2a2a2a"/><rect x="451.03" y="373.6" width="1.2" height="2.7" fill="#2a2a2a"/><rect x="456.14" y="373.6" width="1.2" height="2.7" fill="#2a2a2a"/><rect x="461.26" y="373.6" width="1.2" height="2.7" fill="#2a2a2a"/><rect x="466.37" y="373.6" width="1.2" height="5.0" fill="#2a2a2a"/><rect x="471.48" y="373.6" width="1.2" height="2.7" fill="#2a2a2a"/><rect x="476.60" y="373.6" width="1.2" height="2.7" fill="#2a2a2a"/><rect x="481.71" y="373.6" width="1.2" height="2.7" fill="#2a2a2a"/><rect x="486.82" y="373.6" width="1.2" height="2.7" fill="#2a2a2a"/><rect x="491.94" y="373.6" width="1.2" height="5.0" fill="#2a2a2a"/><rect x="497.05" y="373.6" width="1.2" height="2.7" fill="#2a2a2a"/><rect x="502.16" y="373.6" width="1.2" height="2.7" fill="#2a2a2a"/><rect x="507.27" y="373.6" width="1.2" height="2.7" fill="#2a2a2a"/><rect x="512.39" y="373.6" width="1.2" height="2.7" fill="#2a2a2a"/><rect x="517.50" y="373.6" width="1.2" height="5.0" fill="#2a2a2a"/><rect x="522.61" y="373.6" width="1.2" height="2.7" fill="#2a2a2a"/><rect x="527.73" y="373.6" width="1.2" height="2.7" fill="#2a2a2a"/><rect x="532.84" y="373.6" width="1.2" height="2.7" fill="#2a2a2a"/><rect x="537.95" y="373.6" width="1.2" height="2.7" fill="#2a2a2a"/><rect x="543.07" y="373.6" width="1.2" height="5.0" fill="#2a2a2a"/><rect x="548.18" y="373.6" width="1.2" height="2.7" fill="#2a2a2a"/><rect x="553.29" y="373.6" width="1.2" height="2.7" fill="#2a2a2a"/><rect x="558.40" y="373.6" width="1.2" height="2.7" fill="#2a2a2a"/><rect x="563.52" y="373.6" width="1.2" height="2.7" fill="#2a2a2a"/><rect x="568.63" y="373.6" width="1.2" height="5.0" fill="#2a2a2a"/><rect x="573.74" y="373.6" width="1.2" height="2.7" fill="#2a2a2a"/><rect x="578.86" y="373.6" width="1.2" height="2.7" fill="#2a2a2a"/><rect x="583.97" y="373.6" width="1.2" height="2.7" fill="#2a2a2a"/><rect x="589.08" y="373.6" width="1.2" height="2.7" fill="#2a2a2a"/><rect x="594.20" y="373.6" width="1.2" height="5.0" fill="#2a2a2a"/><rect x="599.31" y="373.6" width="1.2" height="2.7" fill="#2a2a2a"/><rect x="604.42" y="373.6" width="1.2" height="2.7" fill="#2a2a2a"/><rect x="609.53" y="373.6" width="1.2" height="2.7" fill="#2a2a2a"/><rect x="614.65" y="373.6" width="1.2" height="2.7" fill="#2a2a2a"/><rect x="619.76" y="373.6" width="1.2" height="5.0" fill="#2a2a2a"/><rect x="624.87" y="373.6" width="1.2" height="2.7" fill="#2a2a2a"/><rect x="629.99" y="373.6" width="1.2" height="2.7" fill="#2a2a2a"/><rect x="635.10" y="373.6" width="1.2" height="2.7" fill="#2a2a2a"/><rect x="640.21" y="373.6" width="1.2" height="2.7" fill="#2a2a2a"/><rect x="645.33" y="373.6" width="1.2" height="5.0" fill="#2a2a2a"/><rect x="650.44" y="373.6" width="1.2" height="2.7" fill="#2a2a2a"/><rect x="655.55" y="373.6" width="1.2" height="2.7" fill="#2a2a2a"/><rect x="660.66" y="373.6" width="1.2" height="2.7" fill="#2a2a2a"/><rect x="665.78" y="373.6" width="1.2" height="2.7" fill="#2a2a2a"/><rect x="670.89" y="373.6" width="1.2" height="5.0" fill="#2a2a2a"/><rect x="676.00" y="373.6" width="1.2" height="2.7" fill="#2a2a2a"/><rect x="681.12" y="373.6" width="1.2" height="2.7" fill="#2a2a2a"/><rect x="686.23" y="373.6" width="1.2" height="2.7" fill="#2a2a2a"/><rect x="691.34" y="373.6" width="1.2" height="2.7" fill="#2a2a2a"/><rect x="696.46" y="373.6" width="1.2" height="5.0" fill="#2a2a2a"/><rect x="701.57" y="373.6" width="1.2" height="2.7" fill="#2a2a2a"/><rect x="706.68" y="373.6" width="1.2" height="2.7" fill="#2a2a2a"/><rect x="711.79" y="373.6" width="1.2" height="2.7" fill="#2a2a2a"/><rect x="716.91" y="373.6" width="1.2" height="2.7" fill="#2a2a2a"/><rect x="722.02" y="373.6" width="1.2" height="5.0" fill="#2a2a2a"/><rect x="727.13" y="373.6" width="1.2" height="2.7" fill="#2a2a2a"/><rect x="732.25" y="373.6" width="1.2" height="2.7" fill="#2a2a2a"/><rect x="737.36" y="373.6" width="1.2" height="2.7" fill="#2a2a2a"/><rect x="742.47" y="373.6" width="1.2" height="2.7" fill="#2a2a2a"/><rect x="747.59" y="373.6" width="1.2" height="5.0" fill="#2a2a2a"/><rect x="752.70" y="373.6" width="1.2" height="2.7" fill="#2a2a2a"/><rect x="757.81" y="373.6" width="1.2" height="2.7" fill="#2a2a2a"/><rect x="762.92" y="373.6" width="1.2" height="2.7" fill="#2a2a2a"/><rect x="768.04" y="373.6" width="1.2" height="2.7" fill="#2a2a2a"/><rect x="773.15" y="373.6" width="1.2" height="5.0" fill="#2a2a2a"/><rect x="778.26" y="373.6" width="1.2" height="2.7" fill="#2a2a2a"/><rect x="783.38" y="373.6" width="1.2" height="2.7" fill="#2a2a2a"/><rect x="788.49" y="373.6" width="1.2" height="2.7" fill="#2a2a2a"/><rect x="793.60" y="373.6" width="1.2" height="2.7" fill="#2a2a2a"/><rect x="798.72" y="373.6" width="1.2" height="5.0" fill="#2a2a2a"/><rect x="803.83" y="373.6" width="1.2" height="2.7" fill="#2a2a2a"/><rect x="808.94" y="373.6" width="1.2" height="2.7" fill="#2a2a2a"/><rect x="814.05" y="373.6" width="1.2" height="2.7" fill="#2a2a2a"/><rect x="819.17" y="373.6" width="1.2" height="2.7" fill="#2a2a2a"/><rect x="824.28" y="373.6" width="1.2" height="5.0" fill="#2a2a2a"/><rect x="829.39" y="373.6" width="1.2" height="2.7" fill="#2a2a2a"/><rect x="834.51" y="373.6" width="1.2" height="2.7" fill="#2a2a2a"/><rect x="839.62" y="373.6" width="1.2" height="2.7" fill="#2a2a2a"/><rect x="844.73" y="373.6" width="1.2" height="2.7" fill="#2a2a2a"/><rect x="849.85" y="373.6" width="1.2" height="5.0" fill="#2a2a2a"/><rect x="854.96" y="373.6" width="1.2" height="2.7" fill="#2a2a2a"/><rect x="860.07" y="373.6" width="1.2" height="2.7" fill="#2a2a2a"/><rect x="865.18" y="373.6" width="1.2" height="2.7" fill="#2a2a2a"/><rect x="870.30" y="373.6" width="1.2" height="2.7" fill="#2a2a2a"/><rect x="875.41" y="373.6" width="1.2" height="5.0" fill="#2a2a2a"/><rect x="880.52" y="373.6" width="1.2" height="2.7" fill="#2a2a2a"/><rect x="885.64" y="373.6" width="1.2" height="2.7" fill="#2a2a2a"/><rect x="890.75" y="373.6" width="1.2" height="2.7" fill="#2a2a2a"/><rect x="895.86" y="373.6" width="1.2" height="2.7" fill="#2a2a2a"/>
<text class="a" transform="translate(6.50 388.8) scale(0.915 1)" text-anchor="middle">270</text><text class="a" transform="translate(57.63 388.8) scale(0.915 1)" text-anchor="middle">280</text><text class="a" transform="translate(108.76 388.8) scale(0.915 1)" text-anchor="middle">290</text><text class="a" transform="translate(159.89 388.8) scale(0.915 1)" text-anchor="middle">300</text><text class="a" transform="translate(211.02 388.8) scale(0.915 1)" text-anchor="middle">310</text><text class="a" transform="translate(262.15 388.8) scale(0.915 1)" text-anchor="middle">320</text><text class="a" transform="translate(313.28 388.8) scale(0.915 1)" text-anchor="middle">330</text><text class="a" transform="translate(364.41 388.8) scale(0.915 1)" text-anchor="middle">340</text><text class="a" transform="translate(415.54 388.8) scale(0.915 1)" text-anchor="middle">350</text><text class="a" transform="translate(466.67 388.8) scale(0.915 1)" text-anchor="middle">360</text><text class="a" transform="translate(517.80 388.8) scale(0.915 1)" text-anchor="middle">370</text><text class="a" transform="translate(568.93 388.8) scale(0.915 1)" text-anchor="middle">380</text><text class="a" transform="translate(620.06 388.8) scale(0.915 1)" text-anchor="middle">390</text><text class="a" transform="translate(671.19 388.8) scale(0.915 1)" text-anchor="middle">400</text><text class="a" transform="translate(722.32 388.8) scale(0.915 1)" text-anchor="middle">410</text><text class="a" transform="translate(773.45 388.8) scale(0.915 1)" text-anchor="middle">420</text><text class="a" transform="translate(824.58 388.8) scale(0.915 1)" text-anchor="middle">430</text><text class="a" transform="translate(875.71 388.8) scale(0.915 1)" text-anchor="middle">440</text>
<line x1="20.6" y1="251.0" x2="26.6" y2="245.0" stroke="#2e2e2e" stroke-width="1.1"/><line x1="153.6" y1="351.0" x2="159.8" y2="345.0" stroke="#2e2e2e" stroke-width="1.1"/><line x1="261.0" y1="345.8" x2="267.2" y2="349.8" stroke="#2e2e2e" stroke-width="1.1"/><line x1="317.8" y1="258.0" x2="323.9" y2="252.0" stroke="#2e2e2e" stroke-width="1.1"/><line x1="327.7" y1="351.0" x2="334.8" y2="344.6" stroke="#2e2e2e" stroke-width="1.1"/><line x1="589.2" y1="337.6" x2="594.3" y2="341.6" stroke="#2e2e2e" stroke-width="1.1"/><line x1="722.0" y1="332.5" x2="727.6" y2="338.3" stroke="#2e2e2e" stroke-width="1.1"/><line x1="731.6" y1="300.2" x2="737.5" y2="306.2" stroke="#2e2e2e" stroke-width="1.1"/><line x1="736.5" y1="262.5" x2="742.6" y2="268.5" stroke="#2e2e2e" stroke-width="1.1"/><line x1="742.0" y1="230.0" x2="747.8" y2="236.5" stroke="#2e2e2e" stroke-width="1.1"/><line x1="747.0" y1="192.6" x2="753.0" y2="198.8" stroke="#2e2e2e" stroke-width="1.1"/><line x1="751.6" y1="80.6" x2="757.7" y2="86.4" stroke="#2e2e2e" stroke-width="1.1"/><line x1="773.4" y1="83.4" x2="780.0" y2="77.4" stroke="#2e2e2e" stroke-width="1.1"/><line x1="778.6" y1="97.6" x2="785.5" y2="94.4" stroke="#2e2e2e" stroke-width="1.1"/><line x1="783.6" y1="158.6" x2="790.0" y2="153.0" stroke="#2e2e2e" stroke-width="1.1"/><line x1="788.7" y1="177.8" x2="795.0" y2="172.0" stroke="#2e2e2e" stroke-width="1.1"/><line x1="798.6" y1="283.2" x2="805.0" y2="277.5" stroke="#2e2e2e" stroke-width="1.1"/>
<text class="l" x="10.12" y="14.00" text-anchor="middle">270.86</text><text class="l" x="20.00" y="243.40" text-anchor="start">272.85</text><text class="l" x="61.42" y="344.80" text-anchor="middle">280.86</text><text class="l" x="92.32" y="330.70" text-anchor="middle">286.83</text><text class="l" x="143.52" y="310.40" text-anchor="middle">296.86</text><text class="l" x="153.60" y="343.00" text-anchor="start">298.85</text><text class="l" x="259.25" y="347.80" text-anchor="end">320.89</text><text class="l" x="276.72" y="340.80" text-anchor="middle">322.90</text><text class="l" x="306.92" y="98.90" text-anchor="middle">328.82</text><text class="l" x="317.60" y="249.90" text-anchor="start">330.82</text><text class="l" x="327.70" y="343.20" text-anchor="start">332.82</text><text class="l" x="388.92" y="330.00" text-anchor="middle">344.79</text><text class="l" x="439.92" y="330.50" text-anchor="middle">354.83</text><text class="l" x="587.45" y="340.70" text-anchor="end">384.93</text><text class="l" x="604.72" y="340.70" text-anchor="middle">386.93</text><text class="l" x="727.55" y="330.80" text-anchor="end">410.88</text><text class="l" x="737.75" y="298.20" text-anchor="end">412.89</text><text class="l" x="742.15" y="260.60" text-anchor="end">413.89</text><text class="l" x="747.25" y="227.80" text-anchor="end">414.88</text><text class="l" x="752.55" y="191.10" text-anchor="end">415.89</text><text class="l" x="757.75" y="78.90" text-anchor="end">416.89</text><text class="l" x="768.62" y="40.10" text-anchor="middle">418.89</text><text class="l" x="774.30" y="75.60" text-anchor="start">419.89</text><text class="l" x="786.40" y="96.90" text-anchor="start">420.89</text><text class="l" x="784.00" y="151.90" text-anchor="start">421.89</text><text class="l" x="788.80" y="170.40" text-anchor="start">422.89</text><text class="l" x="798.90" y="275.70" text-anchor="start">424.89</text><text class="l" x="901.42" y="340.60" text-anchor="middle">444.89</text>
</svg></body></html>
